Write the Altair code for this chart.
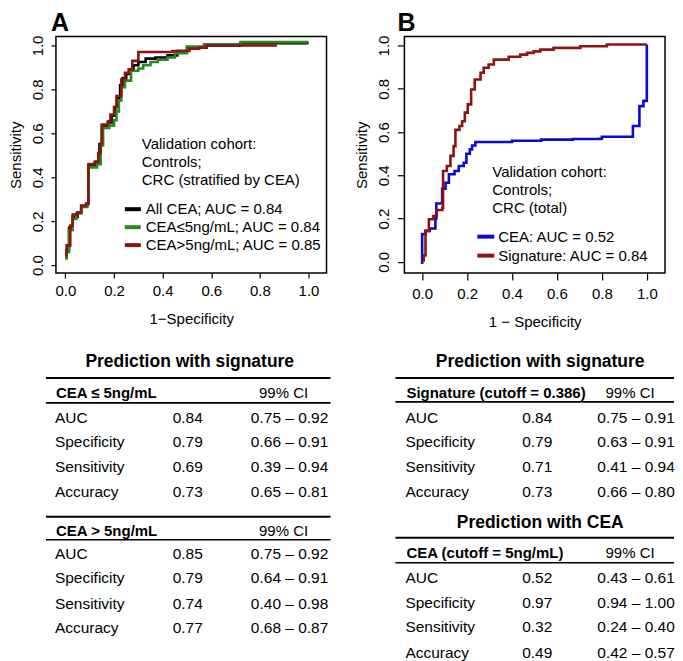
import altair as alt
import pandas as pd

FONT = "Liberation Sans"
TICKS = [0.0, 0.2, 0.4, 0.6, 0.8, 1.0]

# ---------------- Panel A: ROC curves (1-specificity, sensitivity) ----------------
A_NAMES = ["All CEA; AUC = 0.84", "CEA≤5ng/mL; AUC = 0.84", "CEA>5ng/mL; AUC = 0.85"]
A_COLORS = ["#000000", "#2a8a1e", "#8b1414"]

A_ALL_FPR = [0.005, 0.005, 0.015, 0.03, 0.05, 0.065, 0.09, 0.095, 0.125, 0.14, 0.15, 0.175, 0.19,
             0.205, 0.215, 0.225, 0.235, 0.25, 0.265, 0.28, 0.30, 0.33, 0.37, 0.42, 0.46, 0.50,
             0.58, 0.72, 1.0]
A_ALL_TPR = [0.03, 0.07, 0.17, 0.22, 0.24, 0.27, 0.28, 0.455, 0.47, 0.55, 0.635, 0.65, 0.68,
             0.72, 0.76, 0.82, 0.85, 0.87, 0.89, 0.91, 0.925, 0.94, 0.945, 0.955, 0.975, 0.99,
             1.0, 1.01, 1.01]

A_LOW_FPR = [0.005, 0.005, 0.015, 0.03, 0.045, 0.065, 0.09, 0.095, 0.13, 0.145, 0.155, 0.18, 0.20,
             0.21, 0.22, 0.23, 0.245, 0.27, 0.30, 0.32, 0.35, 0.38, 0.42, 0.45, 0.50, 0.57,
             0.72, 1.0]
A_LOW_TPR = [0.025, 0.06, 0.16, 0.21, 0.235, 0.265, 0.28, 0.445, 0.46, 0.545, 0.625, 0.635, 0.66,
             0.70, 0.75, 0.81, 0.84, 0.885, 0.895, 0.91, 0.925, 0.935, 0.945, 0.965, 0.995, 1.005,
             1.015, 1.015]

A_HIGH_FPR = [0.005, 0.005, 0.02, 0.03, 0.05, 0.065, 0.085, 0.095, 0.12, 0.135, 0.145, 0.15, 0.175,
              0.185, 0.20, 0.21, 0.23, 0.245, 0.26, 0.275, 0.30, 0.43, 0.44, 0.51, 0.55, 0.58, 0.87]
A_HIGH_TPR = [0.04, 0.09, 0.18, 0.23, 0.24, 0.27, 0.28, 0.46, 0.47, 0.51, 0.555, 0.64, 0.655,
              0.685, 0.72, 0.77, 0.845, 0.875, 0.89, 0.93, 0.97, 0.97, 0.975, 0.985, 0.99, 1.0, 1.0]

# ---------------- Panel B: ROC curves ----------------
B_NAMES = ["CEA: AUC = 0.52", "Signature: AUC = 0.84"]
B_COLORS = ["#0a0ad0", "#8b1414"]

B_CEA_FPR = [0.0, 0.0, 0.015, 0.034, 0.059, 0.063, 0.089, 0.104, 0.119, 0.144, 0.163, 0.185, 0.197,
             0.212, 0.222, 0.237, 0.40, 0.53, 0.67, 0.79, 0.80, 0.938, 0.967, 0.985, 1.0]
B_CEA_TPR = [-0.01, 0.128, 0.143, 0.154, 0.20, 0.27, 0.338, 0.366, 0.405, 0.42, 0.443, 0.458, 0.50,
             0.52, 0.538, 0.554, 0.56, 0.565, 0.568, 0.569, 0.578, 0.628, 0.72, 0.744, 1.005]

B_SIG_FPR = [0.007, 0.007, 0.015, 0.03, 0.05, 0.065, 0.09, 0.093, 0.11, 0.126, 0.14, 0.148, 0.166,
             0.178, 0.19, 0.203, 0.218, 0.234, 0.26, 0.274, 0.296, 0.319, 0.385, 0.437, 0.467,
             0.496, 0.526, 0.585, 0.704, 0.822, 1.0]
B_SIG_TPR = [0.0, 0.03, 0.143, 0.197, 0.212, 0.24, 0.25, 0.42, 0.443, 0.49, 0.535, 0.61, 0.628,
             0.65, 0.69, 0.728, 0.797, 0.843, 0.874, 0.897, 0.912, 0.935, 0.948, 0.958, 0.966,
             0.973, 0.981, 0.989, 0.997, 1.005, 1.005]

# ---------------- Tables ----------------
STAT_LABELS = ["AUC", "Specificity", "Sensitivity", "Accuracy"]

TA_TITLE = "Prediction with signature"
TA1_HEADER = "CEA ≤ 5ng/mL"
TA1_VALUES = ["0.84", "0.79", "0.69", "0.73"]
TA1_CI = ["0.75 – 0.92", "0.66 – 0.91", "0.39 – 0.94", "0.65 – 0.81"]
TA2_HEADER = "CEA > 5ng/mL"
TA2_VALUES = ["0.85", "0.79", "0.74", "0.77"]
TA2_CI = ["0.75 – 0.92", "0.64 – 0.91", "0.40 – 0.98", "0.68 – 0.87"]

TB_TITLE1 = "Prediction with signature"
TB1_HEADER = "Signature (cutoff = 0.386)"
TB1_VALUES = ["0.84", "0.79", "0.71", "0.73"]
TB1_CI = ["0.75 – 0.91", "0.63 – 0.91", "0.41 – 0.94", "0.66 – 0.80"]
TB_TITLE2 = "Prediction with CEA"
TB2_HEADER = "CEA (cutoff = 5ng/mL)"
TB2_VALUES = ["0.52", "0.97", "0.32", "0.49"]
TB2_CI = ["0.43 – 0.61", "0.94 – 1.00", "0.24 – 0.40", "0.42 – 0.57"]
CI_HEADER = "99% CI"


def roc_panel(key, names, colors, curves, xdom, ydom, width, height, letter, letter_dx, xtitle,
              note, note_x, note_y, leg_x, leg_y, sym_size, label_offset, tick, lpad):
    axis_common = dict(labelFont=FONT, labelFontSize=15, labelColor="black", titleFont=FONT,
                       titleFontSize=15, titleColor="black", titleFontWeight="normal",
                       tickColor="black", tickWidth=1.2, tickSize=tick, labelPadding=lpad,
                       domain=False, grid=False, values=TICKS, format=".1f",
                       labelFlush=False, labelOverlap=False)
    x = alt.X("fpr:Q", scale=alt.Scale(domain=xdom, nice=False, zero=False),
              axis=alt.Axis(title=xtitle, titlePadding=13, **axis_common))
    y = alt.Y("tpr:Q", scale=alt.Scale(domain=ydom, nice=False, zero=False),
              axis=alt.Axis(title="Sensitivity", titlePadding=7, labelAngle=270,
                            labelAlign="center", labelBaseline="bottom", **axis_common))
    field = f"series_{key}"
    color = alt.Color(f"{field}:N", scale=alt.Scale(domain=names, range=colors), sort=names,
                      legend=alt.Legend(title=None, orient="none", legendX=leg_x, legendY=leg_y,
                                        symbolType="stroke", symbolStrokeWidth=4,
                                        symbolSize=sym_size, labelFont=FONT, labelFontSize=15,
                                        labelColor="black", labelOffset=label_offset,
                                        rowPadding=0, padding=0, labelLimit=0))
    layers = []
    for name, (fx, ty) in zip(names, curves):
        df = pd.DataFrame({field: name, "fpr": fx, "tpr": ty, "i": list(range(len(fx)))})
        layers.append(
            alt.Chart(df).mark_line(interpolate="step-after", strokeWidth=2.6)
            .encode(x=x, y=y, color=color, order=alt.Order("i:Q"))
        )
    note_layer = alt.Chart(pd.DataFrame({"t": [note]})).mark_text(
        align="left", baseline="alphabetic", lineBreak="\n", lineHeight=18, font=FONT,
        fontSize=15, color="black"
    ).encode(x=alt.value(note_x), y=alt.value(note_y), text="t:N")
    letter_layer = alt.Chart(pd.DataFrame({"t": [letter]})).mark_text(
        align="left", baseline="alphabetic", font=FONT, fontSize=25, fontWeight="bold",
        color="black"
    ).encode(x=alt.value(letter_dx), y=alt.value(-5), text="t:N")
    return alt.layer(*layers, note_layer, letter_layer).properties(
        width=width, height=height,
        view=alt.ViewBackground(stroke="black", strokeWidth=1.5),
    )


def table_panel(width, height, units, titles, blocks, rule_x, label_x, value_x, ci_x, cihead_x,
                title_x):
    ysc = alt.Scale(domain=[0, units], reverse=True, nice=False, zero=False)
    y = alt.Y("pos:Q", scale=ysc, axis=None)
    title_df = pd.DataFrame({"text": [t for t, _ in titles], "pos": [p for _, p in titles]})
    thick, thin, head, body = [], [], [], []
    for b in blocks:
        thick.append(b["top"])
        thin.append(b["under"])
        head.append({"text": b["header"], "pos": b["head"]})
        for k, lab in enumerate(STAT_LABELS):
            body.append({"label": lab, "value": b["values"][k], "ci": b["ci"][k],
                         "pos": b["rows"][k]})
    head_df = pd.DataFrame(head)
    body_df = pd.DataFrame(body)
    base_text = dict(font=FONT, color="black")
    layers = [
        alt.Chart(title_df).mark_text(align="center", baseline="middle", fontSize=17.5,
                                      fontWeight="bold", **base_text)
        .encode(x=alt.value(title_x), y=y, text="text:N"),
        alt.Chart(pd.DataFrame({"pos": thick})).mark_rule(color="black", strokeWidth=2)
        .encode(x=alt.value(rule_x[0]), x2=alt.value(rule_x[1]), y=y),
        alt.Chart(pd.DataFrame({"pos": thin})).mark_rule(color="black", strokeWidth=1.6)
        .encode(x=alt.value(rule_x[0]), x2=alt.value(rule_x[1]), y=y),
        alt.Chart(head_df).mark_text(align="left", baseline="middle", fontSize=15,
                                     fontWeight="bold", **base_text)
        .encode(x=alt.value(label_x + 1), y=y, text="text:N"),
        alt.Chart(head_df).mark_text(align="center", baseline="middle", fontSize=15,
                                     text=CI_HEADER, **base_text)
        .encode(x=alt.value(cihead_x), y=y),
        alt.Chart(body_df).mark_text(align="left", baseline="middle", fontSize=15.5, **base_text)
        .encode(x=alt.value(label_x), y=y, text="label:N"),
        alt.Chart(body_df).mark_text(align="center", baseline="middle", fontSize=15.5, **base_text)
        .encode(x=alt.value(value_x), y=y, text="value:N"),
        alt.Chart(body_df).mark_text(align="center", baseline="middle", fontSize=15.5, **base_text)
        .encode(x=alt.value(ci_x), y=y, text="ci:N"),
    ]
    return alt.layer(*layers).properties(width=width, height=height)


panel_a = roc_panel(
    "a", A_NAMES, A_COLORS,
    [(A_ALL_FPR, A_ALL_TPR), (A_LOW_FPR, A_LOW_TPR), (A_HIGH_FPR, A_HIGH_TPR)],
    xdom=[-0.039, 1.074], ydom=[-0.036, 1.041], width=271, height=237,
    letter="A", letter_dx=-5, xtitle="1−Specificity",
    note="Validation cohort:\nControls;\nCRC (stratified by CEA)", note_x=86, note_y=113,
    leg_x=67, leg_y=163, sym_size=256, label_offset=3, tick=5, lpad=5,
)

panel_b = roc_panel(
    "b", B_NAMES, B_COLORS,
    [(B_CEA_FPR, B_CEA_TPR), (B_SIG_FPR, B_SIG_TPR)],
    xdom=[-0.079, 1.081], ydom=[-0.052, 1.042], width=261, height=237,
    letter="B", letter_dx=-7, xtitle="1 − Specificity",
    note="Validation cohort:\nControls;\nCRC (total)", note_x=88, note_y=141,
    leg_x=71, leg_y=190, sym_size=289, label_offset=2, tick=7, lpad=6,
)

table_a = table_panel(
    width=271, height=310, units=12.6,
    titles=[(TA_TITLE, 0.447)],
    blocks=[
        dict(header=TA1_HEADER, values=TA1_VALUES, ci=TA1_CI, top=1.098, head=1.707,
             under=2.114, rows=[2.724, 3.699, 4.715, 5.732]),
        dict(header=TA2_HEADER, values=TA2_VALUES, ci=TA2_CI, top=6.748, head=7.317,
             under=7.683, rows=[8.252, 9.228, 10.285, 11.26]),
    ],
    rule_x=(-10, 275), label_x=-1, value_x=132, ci_x=234, cihead_x=228, title_x=134,
)

table_b = table_panel(
    width=261, height=310, units=12.6,
    titles=[(TB_TITLE1, 0.447), (TB_TITLE2, 6.992)],
    blocks=[
        dict(header=TB1_HEADER, values=TB1_VALUES, ci=TB1_CI, top=1.098, head=1.707,
             under=2.073, rows=[2.724, 3.699, 4.715, 5.732]),
        dict(header=TB2_HEADER, values=TB2_VALUES, ci=TB2_CI, top=7.602, head=8.211,
             under=8.618, rows=[9.228, 10.244, 11.22, 12.276]),
    ],
    rule_x=(-9, 270), label_x=1, value_x=133, ci_x=232, cihead_x=226, title_x=136,
)

chart = alt.concat(
    panel_a, panel_b, table_a, table_b, columns=2, bounds="flush",
    spacing=alt.RowColnumber(row=78, column=78),
).resolve_scale(color="independent").resolve_legend(color="independent").properties(
    padding={"left": 0, "top": 2, "right": 0, "bottom": 0}
).configure(font=FONT).configure_view(stroke=None)

chart.save("out.html", embed_options={"renderer": "svg", "actions": False})
